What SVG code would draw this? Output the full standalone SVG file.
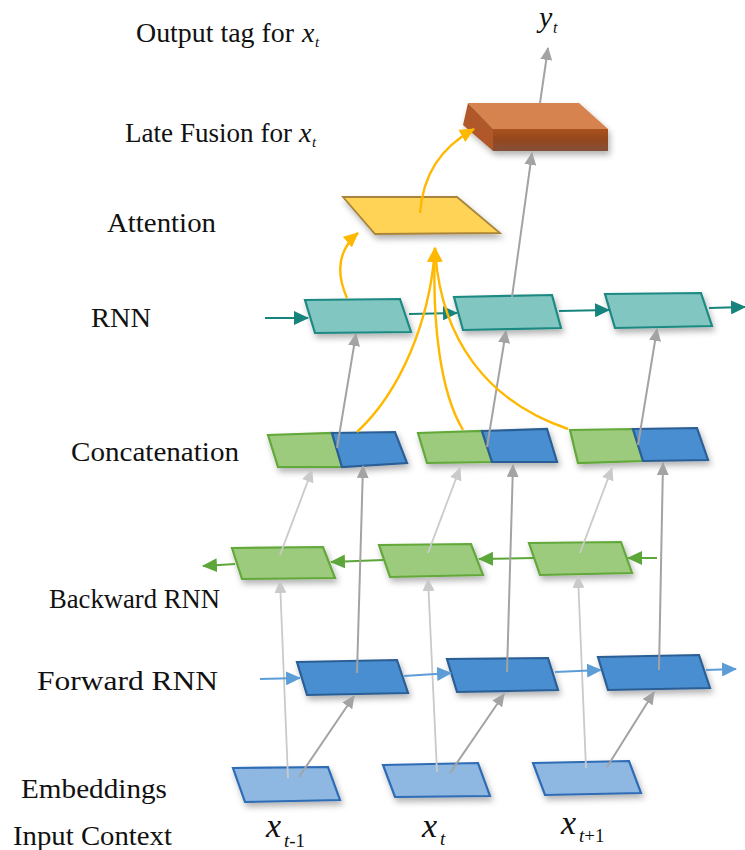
<svg xmlns="http://www.w3.org/2000/svg" width="745" height="850" viewBox="0 0 745 850">
<style>
text{font-family:"Liberation Serif","Times New Roman",serif;fill:#111111}
.lbl{font-size:27px}
.it{font-style:italic}
.rnn{fill:#82C6C2;stroke:#1E8A83;stroke-width:2.2}
.bw{fill:#9DCB7E;stroke:#62A83A;stroke-width:2.2}
.fw{fill:#4A8ED0;stroke:#2C5E95;stroke-width:2.2}
.emb{fill:#8EB8E2;stroke:#2E6CB5;stroke-width:2.2}
.att{fill:#FFD357;stroke:#A8853A;stroke-width:1.8}
.c-teal{stroke:#16847C;stroke-width:2.2;fill:none;marker-end:url(#mTeal)}
.c-green{stroke:#5DA63A;stroke-width:2;fill:none;marker-end:url(#mGreen)}
.c-blue{stroke:#5C9DD8;stroke-width:2;fill:none;marker-end:url(#mBlue)}
.c-gray{stroke:#A3A3A3;stroke-width:2;fill:none;marker-end:url(#mGray)}
.c-lgray{stroke:#CACACA;stroke-width:1.8;fill:none;marker-end:url(#mLGray)}
.c-yel{stroke:#FFB800;stroke-width:2.4;fill:none;marker-end:url(#mYel)}
</style>
<defs>
<filter id="sh" x="-20%" y="-30%" width="150%" height="180%">
<feDropShadow dx="2" dy="4" stdDeviation="3" flood-color="#000" flood-opacity="0.3"/>
</filter>
<linearGradient id="gFront" x1="0" y1="0" x2="0" y2="1">
<stop offset="0" stop-color="#A9521E"/>
<stop offset="0.5" stop-color="#93471E"/>
<stop offset="1" stop-color="#85503A"/>
</linearGradient>
<marker id="mTeal" markerUnits="userSpaceOnUse" markerWidth="16" markerHeight="14" refX="14" refY="7" orient="auto"><path d="M0,0 L15,7 L0,14 z" fill="#16847C"/></marker>
<marker id="mGreen" markerUnits="userSpaceOnUse" markerWidth="16" markerHeight="14" refX="14" refY="7" orient="auto"><path d="M0,0 L15,7 L0,14 z" fill="#5DA63A"/></marker>
<marker id="mBlue" markerUnits="userSpaceOnUse" markerWidth="16" markerHeight="14" refX="14" refY="7" orient="auto"><path d="M0,0 L15,7 L0,14 z" fill="#5C9DD8"/></marker>
<marker id="mGray" markerUnits="userSpaceOnUse" markerWidth="14" markerHeight="12" refX="12" refY="6" orient="auto"><path d="M0,0 L13,6 L0,12 z" fill="#A3A3A3"/></marker>
<marker id="mLGray" markerUnits="userSpaceOnUse" markerWidth="14" markerHeight="12" refX="12" refY="6" orient="auto"><path d="M0,0 L13,6 L0,12 z" fill="#CACACA"/></marker>
<marker id="mYel" markerUnits="userSpaceOnUse" markerWidth="16" markerHeight="14" refX="14" refY="7" orient="auto"><path d="M0,0 L15,7 L0,14 z" fill="#FFB800"/></marker>
</defs>
<rect width="745" height="850" fill="#ffffff"/>

<g id="labels">
<text class="lbl" x="136" y="42" textLength="158" lengthAdjust="spacingAndGlyphs">Output tag for</text>
<text class="it" x="302" y="42" font-size="28">x</text><text class="it" x="315" y="47" font-size="15">t</text>
<text class="lbl" x="125" y="142" textLength="167" lengthAdjust="spacingAndGlyphs">Late Fusion for</text>
<text class="it" x="299" y="142" font-size="28">x</text><text class="it" x="312" y="147" font-size="15">t</text>
<text class="lbl" x="107" y="232" font-size="28" textLength="109" lengthAdjust="spacingAndGlyphs">Attention</text>
<text class="lbl" x="91" y="327" font-size="28" textLength="60" lengthAdjust="spacingAndGlyphs">RNN</text>
<text class="lbl" x="71" y="461" font-size="28" textLength="168" lengthAdjust="spacingAndGlyphs">Concatenation</text>
<text class="lbl" x="49" y="608" font-size="26" textLength="171" lengthAdjust="spacingAndGlyphs">Backward RNN</text>
<text class="lbl" x="37" y="690" font-size="31" textLength="181" lengthAdjust="spacingAndGlyphs">Forward RNN</text>
<text class="lbl" x="21" y="798" textLength="146" lengthAdjust="spacingAndGlyphs">Embeddings</text>
<text class="lbl" x="13" y="845" textLength="159" lengthAdjust="spacingAndGlyphs">Input Context</text>
<text class="it" x="539" y="27" font-size="30">y</text><text class="it" x="553" y="33" font-size="16">t</text>
<text class="it" x="266" y="837" font-size="34">x</text><text x="284" y="847" font-size="19"><tspan class="it">t</tspan>-1</text>
<text class="it" x="422" y="837" font-size="34">x</text><text class="it" x="440" y="845" font-size="19">t</text>
<text class="it" x="561" y="834" font-size="34">x</text><text x="579" y="842" font-size="19"><tspan class="it">t</tspan>+1</text>
</g>

<g id="late-fusion" filter="url(#sh)">
<polygon points="468,103 579,103 608,129 493,129" fill="#D6834F"/>
<polygon points="493,129 608,129 608,151 493,151" fill="url(#gFront)"/>
<polygon points="468,103 493,129 493,151 463,125" fill="#B0582A"/>
</g>

<g id="attention" filter="url(#sh)">
<polygon class="att" points="343,197 457,197 500,233 375,234"/>
</g>

<g id="rnn-1" filter="url(#sh)"><polygon class="rnn" points="305,300 400,299 411,332 315,333"/></g>
<g id="rnn-2" filter="url(#sh)"><polygon class="rnn" points="454,297 552,295 561,328 463,330"/></g>
<g id="rnn-3" filter="url(#sh)"><polygon class="rnn" points="605,294 701,293 712,326 615,328"/></g>

<g id="concat-1" filter="url(#sh)">
<polygon class="bw" points="268,435 332,433 342,467 278,467"/>
<polygon class="fw" points="332,433 395,432 407,463 342,467"/>
</g>
<g id="concat-2" filter="url(#sh)">
<polygon class="bw" points="418,433 482,431 492,462 427,463"/>
<polygon class="fw" points="482,431 547,429 557,462 492,462"/>
</g>
<g id="concat-3" filter="url(#sh)">
<polygon class="bw" points="570,430 633,429 643,461 578,463"/>
<polygon class="fw" points="633,429 697,428 708,460 643,461"/>
</g>

<g id="backward-1" filter="url(#sh)"><polygon class="bw" points="232,548 323,547 335,578 242,579"/></g>
<g id="backward-2" filter="url(#sh)"><polygon class="bw" points="379,545 471,544 483,575 390,577"/></g>
<g id="backward-3" filter="url(#sh)"><polygon class="bw" points="529,543 621,542 632,573 540,575"/></g>

<g id="forward-1" filter="url(#sh)"><polygon class="fw" points="297,662 397,660 408,693 307,695"/></g>
<g id="forward-2" filter="url(#sh)"><polygon class="fw" points="447,659 548,658 558,690 457,692"/></g>
<g id="forward-3" filter="url(#sh)"><polygon class="fw" points="598,657 699,655 710,688 608,690"/></g>

<g id="embedding-1" filter="url(#sh)"><polygon class="emb" points="233,768 328,767 340,800 245,802"/></g>
<g id="embedding-2" filter="url(#sh)"><polygon class="emb" points="383,765 478,763 490,796 395,797"/></g>
<g id="embedding-3" filter="url(#sh)"><polygon class="emb" points="533,763 629,761 641,793 545,795"/></g>

<g id="connectors">
<line class="c-lgray" x1="288" y1="778" x2="280" y2="581"/>
<line class="c-lgray" x1="437" y1="772" x2="428" y2="579"/>
<line class="c-lgray" x1="586" y1="768" x2="578" y2="576"/>
<line class="c-gray" x1="299" y1="777" x2="354" y2="696"/>
<line class="c-gray" x1="450" y1="773" x2="504" y2="694"/>
<line class="c-gray" x1="607" y1="767" x2="654" y2="692"/>
<line class="c-blue" x1="260" y1="679" x2="300" y2="678"/>
<line class="c-blue" x1="404" y1="676" x2="451" y2="673"/>
<line class="c-blue" x1="555" y1="672" x2="601" y2="670"/>
<line class="c-blue" x1="706" y1="670" x2="736" y2="669"/>
<line class="c-green" x1="657" y1="558" x2="628" y2="558"/>
<line class="c-green" x1="534" y1="558" x2="479" y2="559"/>
<line class="c-green" x1="383" y1="560" x2="331" y2="562"/>
<line class="c-green" x1="235" y1="564" x2="203" y2="566"/>
<line class="c-lgray" x1="280" y1="555" x2="312" y2="470"/>
<line class="c-lgray" x1="428" y1="553" x2="460" y2="468"/>
<line class="c-lgray" x1="580" y1="553" x2="612" y2="468"/>
<line class="c-gray" x1="357" y1="673" x2="363" y2="466"/>
<line class="c-gray" x1="507" y1="672" x2="513" y2="465"/>
<line class="c-gray" x1="659" y1="670" x2="663" y2="463"/>
<line class="c-gray" x1="337" y1="448" x2="356" y2="334"/>
<line class="c-gray" x1="487" y1="447" x2="506" y2="331"/>
<line class="c-gray" x1="638" y1="445" x2="657" y2="329"/>
<line class="c-teal" x1="265" y1="318" x2="308" y2="318"/>
<line class="c-teal" x1="409" y1="314" x2="457" y2="313"/>
<line class="c-teal" x1="559" y1="311" x2="609" y2="310"/>
<line class="c-teal" x1="709" y1="308" x2="745" y2="307"/>
<line class="c-gray" x1="512" y1="297" x2="532" y2="153"/>
<line class="c-gray" x1="540" y1="103" x2="548" y2="48"/>
<path class="c-yel" d="M357,432 C400,392 430,322 435,248"/>
<path class="c-yel" d="M463,430 C440,392 432,322 435,248"/>
<path class="c-yel" d="M568,429 C488,402 440,340 435,248"/>
<path class="c-yel" d="M347,298 C336,273 338,250 358,233"/>
<path class="c-yel" d="M420,213 C423,175 440,148 474,129"/>
</g>
</svg>
